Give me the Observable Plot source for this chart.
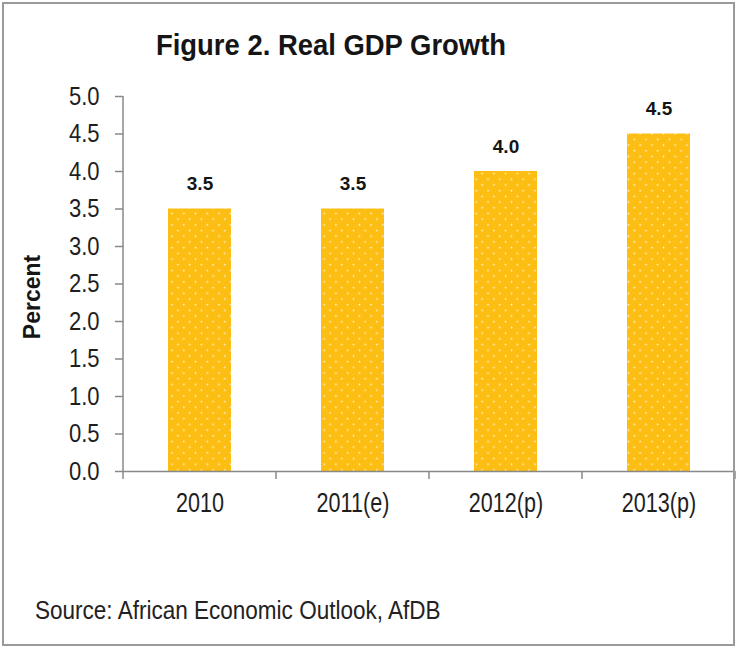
<!DOCTYPE html>
<html><head><meta charset="utf-8">
<script src="https://cdn.jsdelivr.net/npm/d3@7"></script>
<script src="https://cdn.jsdelivr.net/npm/@observablehq/plot@0.6"></script>
<style>
body{margin:0;background:#fff;}
#wrap{position:relative;width:738px;height:648px;overflow:hidden;font-family:"Liberation Sans","Arial",sans-serif;line-height:1;}
#frame{position:absolute;left:2px;top:2px;width:733px;height:644px;border:2px solid #9a9a9a;box-sizing:border-box;pointer-events:none;}
#title{position:absolute;left:0;width:662px;top:30px;text-align:center;font-weight:bold;font-size:29.5px;color:#151515;transform:scaleX(0.93);transform-origin:331px 0;}
#ylab{position:absolute;left:32px;top:297px;transform:translate(-50%,-50%) rotate(-90deg);font-weight:bold;font-size:23px;color:#151515;white-space:nowrap;}
#source{position:absolute;left:35px;top:598px;font-size:25.6px;color:#222;white-space:nowrap;transform:scaleX(0.88);transform-origin:0 0;}
svg{position:absolute;left:0;top:0;}
</style></head>
<body>
<div id="wrap">
<div id="title">Figure 2. Real GDP Growth</div>
<div id="ylab">Percent</div>
<div id="source">Source: African Economic Outlook, AfDB</div>
<div id="frame"></div>
</div>
<script>
const categories = ["2010", "2011(e)", "2012(p)", "2013(p)"];
const growth = [3.5, 3.5, 4.0, 4.5];
const yTicks = [0, 0.5, 1, 1.5, 2, 2.5, 3, 3.5, 4, 4.5, 5];

const data = categories.map((c, i) => ({year: c, value: growth[i]}));

const chart = Plot.plot({
  width: 738,
  height: 648,
  marginLeft: 123,
  marginRight: 3,
  marginTop: 96,
  marginBottom: 177,
  style: {fontFamily: '"Liberation Sans",Arial,sans-serif', background: "transparent", color: "#222"},
  x: {domain: categories, paddingInner: 0.59, paddingOuter: 0.295, label: null},
  y: {domain: [0, 5], label: null},
  marks: [
    Plot.barY(data, {x: "year", y: "value", fill: "url(#dots)"}),
    Plot.text(data, {x: "year", y: "value", text: d => d.value.toFixed(1), dy: -25, fontWeight: "bold", fontSize: 19, fill: "#151515"}),
    Plot.axisY({ticks: yTicks, tickFormat: d3.format(".1f"), tickSize: 8, tickPadding: 16, fontSize: 25, stroke: "#888", strokeWidth: 1.5, label: null}),
    Plot.axisX({tickSize: 0, tickPadding: 20, fontSize: 28.4, label: null}),
    Plot.ruleY([0], {stroke: "#888", strokeWidth: 1.5})
  ]
});

// pattern definition for dotted fill
const svg = d3.select(chart);
const defs = svg.insert("defs", ":first-child");
const pat = defs.append("pattern").attr("id", "dots").attr("patternUnits", "userSpaceOnUse")
  .attr("width", 11.7).attr("height", 11.4);
pat.append("rect").attr("width", 11.7).attr("height", 11.4).attr("fill", "#FDBE14");
pat.append("circle").attr("cx", 2.5).attr("cy", 2.5).attr("r", 0.8).attr("fill", "#fff7e0");
pat.append("circle").attr("cx", 8.35).attr("cy", 8.2).attr("r", 0.8).attr("fill", "#fff7e0");

// y axis line and category boundary ticks, from the plot's scales
const sx = chart.scale("x"), sy = chart.scale("y");
const x0 = sx.range[0], x1 = sx.range[1];
const yb = sy.apply(0), yt = sy.apply(5);
svg.append("line").attr("x1", x0).attr("x2", x0).attr("y1", yt).attr("y2", yb)
  .attr("stroke", "#888").attr("stroke-width", 1.5);
const bounds = categories.map(c => sx.apply(c) - (sx.step - sx.bandwidth) / 2).concat([x1]);
svg.selectAll("line.bt").data(bounds).join("line").attr("class", "bt")
  .attr("x1", d => d).attr("x2", d => d).attr("y1", yb).attr("y2", yb + 8)
  .attr("stroke", "#888").attr("stroke-width", 1.5);

// condense axis tick labels horizontally (narrow font look)
function condense(sel, s) {
  chart.querySelectorAll(sel).forEach(t => {
    const x = t.getAttribute("x"), y = t.getAttribute("y");
    let tr = t.getAttribute("transform") || "";
    if (x != null && !/em/.test(x)) { tr += ` translate(${x},0)`; t.removeAttribute("x"); }
    t.setAttribute("transform", tr + ` scale(${s},1)`);
    t.setAttribute("fill", "#1e1e1e");
  });
}
condense("g[aria-label='x-axis tick label'] text", 0.76);
condense("g[aria-label='y-axis tick label'] text", 0.88);

document.getElementById("wrap").insertBefore(chart, document.getElementById("title"));
</script>
</body></html>
